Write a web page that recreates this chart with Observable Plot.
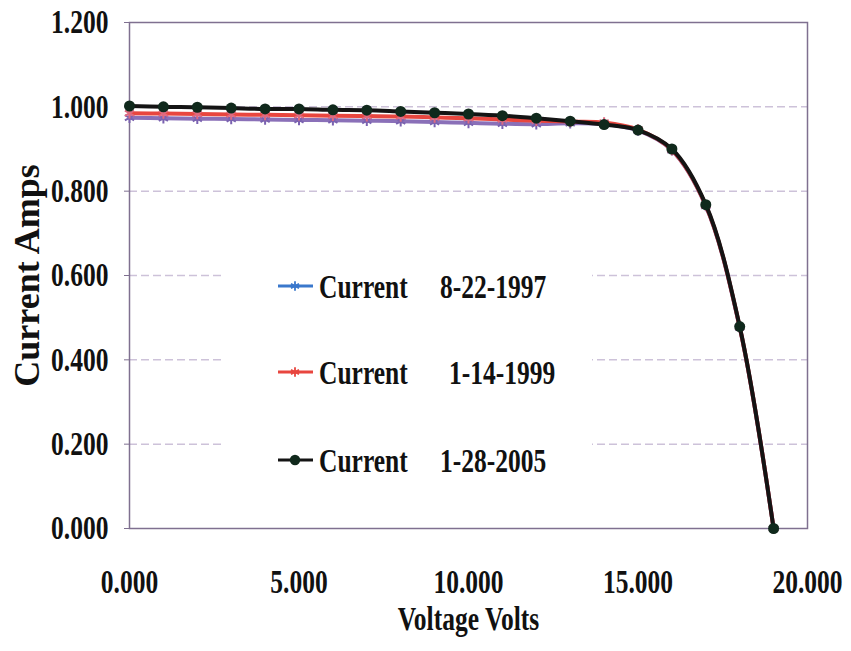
<!DOCTYPE html>
<html><head><meta charset="utf-8">
<script src="https://cdn.jsdelivr.net/npm/d3@7"></script>
<script src="https://cdn.jsdelivr.net/npm/@observablehq/plot@0.6"></script>
<style>body{margin:0;background:#fff}#chart{width:851px;height:651px}</style>
</head><body><div id="chart"></div>
<script>
const voltage = [0,1,2,3,4,5,6,7,8,9,10,11,12,13,14,15,16,17,18,19];
const current1997 = [0.974,0.973,0.972,0.971,0.970,0.969,0.968,0.967,0.966,0.964,0.962,0.960,0.959,0.961,0.959,0.944,0.897,0.765,0.477,0.000];
const current1999 = [0.985,0.984,0.983,0.982,0.981,0.980,0.979,0.978,0.977,0.975,0.973,0.970,0.967,0.965,0.963,0.946,0.898,0.766,0.478,0.000];
const current2005 = [1.002,1.000,0.999,0.997,0.995,0.995,0.993,0.992,0.989,0.986,0.983,0.979,0.973,0.966,0.958,0.945,0.900,0.768,0.479,0.000];
const seriesLabel = "Current";
const seriesDates = ["8-22-1997","1-14-1999","1-28-2005"];
const xTicks = [0,5,10,15,20];
const yTicks = [0,0.2,0.4,0.6,0.8,1.0,1.2];

const toRows = (vals, s) => voltage.map((v, i) => ({v, c: vals[i], s}));
const d97 = toRows(current1997, seriesDates[0]);
const d99 = toRows(current1999, seriesDates[1]);
const d05 = toRows(current2005, seriesDates[2]);

const fmt = d3.format(".3f");
const font = "'Liberation Serif','Times New Roman',serif";

const chart = Plot.plot({
  width: 851, height: 651,
  marginLeft: 129, marginRight: 44, marginTop: 22, marginBottom: 123,
  style: {fontFamily: font, fontSize: "34px", fontWeight: "bold", color: "#111", background: "#fff", overflow: "visible"},
  x: {domain: [0, 20]},
  y: {domain: [0, 1.2]},
  marks: [
    Plot.gridY(yTicks.filter(t => t > 0 && t < 1.2), {stroke: "#cdc2d9", strokeOpacity: 1, strokeWidth: 1.5, strokeDasharray: "8,4"}),
    Plot.frame({stroke: "#7f7090", strokeWidth: 1.5}),
    Plot.axisX({ticks: xTicks, tickFormat: fmt, tickSize: 0, tickPadding: 40, label: "Voltage Volts", labelAnchor: "center", labelOffset: 101, labelArrow: "none"}),
    Plot.axisY({ticks: yTicks, tickFormat: fmt, tickSize: 5, tickPadding: 16, stroke: "#7f7090", label: "Current Amps", labelAnchor: "center", labelOffset: 116, labelArrow: "none"}),
    Plot.line(d97, {x: "v", y: "c", stroke: "#8a70b8", strokeWidth: 4, curve: "catmull-rom"}),
    Plot.dot(d97, {x: "v", y: "c", symbol: "asterisk", r: 5, stroke: "#7a62b0", strokeWidth: 2}),
    Plot.line(d99, {x: "v", y: "c", stroke: "#e8463f", strokeWidth: 4, curve: "catmull-rom"}),
    Plot.dot(d99, {x: "v", y: "c", symbol: "asterisk", r: 5, stroke: "#e06a80", strokeWidth: 2}),
    Plot.line(d05, {x: "v", y: "c", stroke: "#141414", strokeWidth: 4, curve: "catmull-rom"}),
    Plot.dot(d05, {x: "v", y: "c", r: 5.5, fill: "#10291c", stroke: "none"})
  ]
});
document.getElementById("chart").appendChild(chart);

// legend inside the plot area
const svg = d3.select(chart);
const lg = svg.append("g").attr("font-family", font).attr("font-weight", "bold").attr("font-size", 34).attr("fill", "#111").attr("text-anchor", "start");
lg.append("rect").attr("x", 222).attr("y", 238).attr("width", 370).attr("height", 268).attr("fill", "#fff");
const legendColors = ["#3a78cc", "#e8463f", "#141414"];
const legendSymbols = ["asterisk", "asterisk", "circle"];
const rowY = [286, 372, 460];
const dateX = [440, 449, 440];
seriesDates.forEach((d, i) => {
  const y = rowY[i];
  lg.append("line").attr("x1", 278).attr("x2", 313).attr("y1", y).attr("y2", y).attr("stroke", legendColors[i]).attr("stroke-width", 3);
  if (legendSymbols[i] === "circle") {
    lg.append("circle").attr("cx", 295).attr("cy", y).attr("r", 5.2).attr("fill", "#10291c");
  } else {
    lg.append("path").attr("transform", `translate(295,${y})`).attr("d", d3.symbol(d3.symbolAsterisk, 60)()).attr("fill", "none").attr("stroke", legendColors[i]).attr("stroke-width", 1.8);
  }
  lg.append("text").attr("x", 319).attr("y", y + 12).text(seriesLabel);
  lg.append("text").attr("x", dateX[i]).attr("y", y + 12).text(d);
});

// y-axis title slightly larger
chart.querySelectorAll('g[aria-label="y-axis label"] text').forEach(t => t.style.fontSize = "36px");

// condense horizontal text to match the narrow bold serif type
chart.querySelectorAll("text").forEach(t => {
  const p = t.closest("g[aria-label]");
  if (p && p.getAttribute("aria-label") === "y-axis label") return;
  const w = t.getComputedTextLength();
  if (w > 0) {
    t.setAttribute("textLength", (w * 0.75).toFixed(1));
    t.setAttribute("lengthAdjust", "spacingAndGlyphs");
  }
});
</script>
</body></html>
